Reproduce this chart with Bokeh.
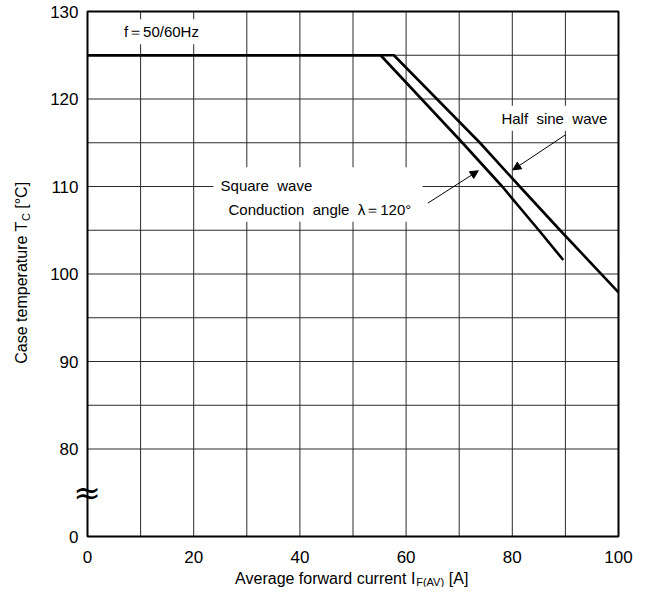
from math import pi
from bokeh.plotting import figure
from bokeh.models import FixedTicker, Label, Arrow, NormalHead, Range1d, LinearAxis, BoxAnnotation
from bokeh.embed import file_html
from bokeh.resources import INLINE

# ---- data ----
square_x = [0, 55.2, 70.6, 78.1, 85.0, 89.6]
square_y = [125, 125, 115, 110, 105, 101.6]
sine_x = [0, 57.7, 73.9, 81.4, 89.0, 100]
sine_y = [125, 125, 115, 110, 105, 97.9]

x_ticks = [0, 20, 40, 60, 80, 100]
y_ticks = [70, 80, 90, 100, 110, 120, 130]
y_tick_overrides = {70: "0"}
x_grid = [10, 20, 30, 40, 50, 60, 70, 80, 90]
y_grid = [80, 85, 90, 95, 100, 105, 110, 115, 120, 125]
x_lim = (0, 100)
y_lim = (70, 130)

FONT = "Liberation Sans"
NB = "\u00a0"

# ---- layout: the plotting frame covers the whole canvas, the chart box sits inside ----
W, H = 639, 587
BOX_L, BOX_R, BOX_T, BOX_B = 87, 618, 11, 536   # chart box edges in canvas pixels
kx = (BOX_R - BOX_L) / (x_lim[1] - x_lim[0])
ky = (BOX_B - BOX_T) / (y_lim[1] - y_lim[0])
xr = Range1d(x_lim[0] - BOX_L / kx, x_lim[1] + (W - BOX_R) / kx)
yr = Range1d(y_lim[0] - (H - BOX_B) / ky, y_lim[1] + BOX_T / ky)

p = figure(width=W, height=H, output_backend="svg", toolbar_location=None,
           x_range=xr, y_range=yr, x_axis_type=None, y_axis_type=None, min_border=0)
p.background_fill_color = "white"
p.border_fill_color = "white"
p.outline_line_color = None

# axes fixed at the chart box edges
xaxis = LinearAxis(fixed_location=y_lim[0], ticker=FixedTicker(ticks=x_ticks), bounds=x_lim)
yaxis = LinearAxis(fixed_location=x_lim[0], ticker=FixedTicker(ticks=y_ticks), bounds=y_lim,
                   major_label_overrides=y_tick_overrides)
for ax in (xaxis, yaxis):
    ax.axis_line_color = None
    ax.major_tick_line_color = None
    ax.minor_tick_line_color = None
    ax.major_tick_out = 0
    ax.major_tick_in = 0
    ax.major_label_text_font = FONT
    ax.major_label_text_font_size = "17px"
    ax.major_label_text_color = "black"
yaxis.major_label_standoff = 9
xaxis.major_label_standoff = 14
p.add_layout(xaxis, "below")
p.add_layout(yaxis, "left")

# grid lines
p.segment(x0=x_grid, y0=[y_lim[0]] * len(x_grid), x1=x_grid, y1=[y_lim[1]] * len(x_grid),
          line_color="#2a2a2a", line_width=1)
p.segment(x0=[x_lim[0]] * len(y_grid), y0=y_grid, x1=[x_lim[1]] * len(y_grid), y1=y_grid,
          line_color="#2a2a2a", line_width=1)

# curves
p.line(square_x, square_y, line_color="black", line_width=2.6)
p.line(sine_x, sine_y, line_color="black", line_width=2.6)

# chart border
p.quad(left=[x_lim[0]], right=[x_lim[1]], bottom=[y_lim[0]], top=[y_lim[1]],
       fill_color=None, line_color="black", line_width=2)

# white area behind the square-wave note (hides the grid there)
p.add_layout(BoxAnnotation(left=23.7, right=63.1, bottom=106.1, top=112.2,
                           fill_color="white", fill_alpha=1, line_color=None))

# annotation texts inside the chart
def note(x, y, txt):
    p.add_layout(Label(x=x, y=y, text=txt, text_font=FONT, text_font_size="15px",
                       text_align="left", text_baseline="middle", text_color="black",
                       background_fill_color="white", padding=4))

note(6.1, 127.7, "f＝50/60Hz")
note(24.3, 110.1, "Square " + NB + "wave")
note(25.8, 107.4, "Conduction " + NB + "angle " + NB + "λ＝120°")
note(77.2, 117.8, "Half " + NB + "sine " + NB + "wave")

# arrows
p.add_layout(Arrow(end=NormalHead(size=8, line_color="black", fill_color="black", line_width=1),
                   x_start=64.1, y_start=108.1, x_end=73.6, y_end=111.8,
                   line_color="black", line_width=1))
p.add_layout(Arrow(end=NormalHead(size=8, line_color="black", fill_color="black", line_width=1),
                   x_start=90.0, y_start=115.9, x_end=80.1, y_end=111.9,
                   line_color="black", line_width=1))

def text(x, y, txt, size="16px", angle=0.0, align="left", font=FONT):
    p.add_layout(Label(x=x, y=y, text=txt, text_font=font, text_font_size=size, angle=angle,
                       text_align=align, text_baseline="middle", text_color="black"))

# axis break symbol
text(-0.1, 75.0, "≈", size="33px", align="center", font="DejaVu Sans")

# y axis title with subscript
text(-12.4, 89.75, "Case temperature T", angle=pi / 2)
text(-11.65, 106.05, "C", size="11px", angle=pi / 2)
text(-12.4, 106.95, NB + "[°C]", angle=pi / 2)

# x axis title with subscript
text(27.8, 65.2, "Average forward current I")
text(61.9, 64.75, "F(AV)", size="11px")
text(67.2, 65.2, NB + "[A]")

open("out.html", "w").write(file_html(p, INLINE))
